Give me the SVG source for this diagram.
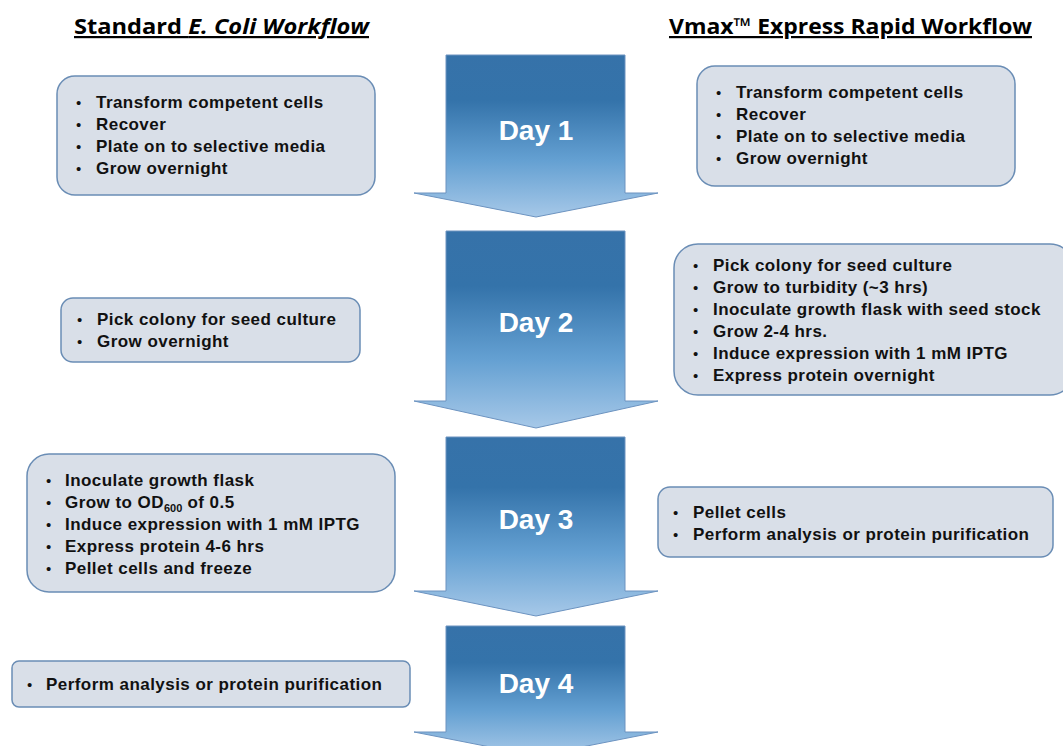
<svg xmlns="http://www.w3.org/2000/svg" width="1063" height="746" viewBox="0 0 1063 746">
<defs>
<linearGradient id="ag" x1="0" y1="0" x2="0" y2="1">
<stop offset="0" stop-color="#3672A9"/>
<stop offset="0.28" stop-color="#3473AA"/>
<stop offset="0.65" stop-color="#64A0D2"/>
<stop offset="1" stop-color="#A6C8E8"/>
</linearGradient>
</defs>
<style>
.hdr{font-family:"Open Sans","Liberation Sans",sans-serif;font-weight:bold;font-size:22px;fill:#000;text-decoration:underline;}
.box{fill:#D9DFE8;stroke:#6A8DB5;stroke-width:1.5;}
.t{font-family:"Liberation Sans",Arial,sans-serif;font-weight:bold;font-size:17px;letter-spacing:0.45px;fill:#111;}
.b{font-family:"Liberation Sans",Arial,sans-serif;font-size:15px;fill:#111;}
.arrow{fill:url(#ag);stroke:#6C93C0;stroke-width:1;}
.day{font-family:"Liberation Sans",Arial,sans-serif;font-weight:bold;font-size:28px;fill:#fff;text-anchor:middle;}
</style>
<rect width="1063" height="746" fill="#fff"/>
<g id="headers">
<text class="hdr" x="74" y="34" textLength="295" lengthAdjust="spacingAndGlyphs">Standard <tspan font-style="italic">E. Coli Workflow</tspan></text>
<text class="hdr" x="669" y="34" textLength="363" lengthAdjust="spacingAndGlyphs">Vmax™ Express Rapid Workflow</text>
</g>
<g id="connectors">
<g id="day1">
<path class="arrow" d="M446,55 H625 V193 H658 L536,217 L414,193 H446 Z"/>
<text class="day" x="536" y="140">Day 1</text>
</g>
<g id="day2">
<path class="arrow" d="M446,231 H625 V401 H658 L536,428 L414,401 H446 Z"/>
<text class="day" x="536" y="332">Day 2</text>
</g>
<g id="day3">
<path class="arrow" d="M446,437 H625 V591 H658 L536,616 L414,591 H446 Z"/>
<text class="day" x="536" y="529">Day 3</text>
</g>
<g id="day4">
<path class="arrow" d="M446,626 H625 V732 H658 L536,756 L414,732 H446 Z"/>
<text class="day" x="536" y="693">Day 4</text>
</g>
</g>
<g id="std-day1">
<rect class="box" x="57" y="76" width="318" height="119" rx="18"/>
<text class="b" x="76" y="108">•</text><text class="t" x="96" y="108">Transform competent cells</text>
<text class="b" x="76" y="130">•</text><text class="t" x="96" y="130">Recover</text>
<text class="b" x="76" y="152">•</text><text class="t" x="96" y="152">Plate on to selective media</text>
<text class="b" x="76" y="174">•</text><text class="t" x="96" y="174">Grow overnight</text>
</g>
<g id="vmax-day1">
<rect class="box" x="697" y="66" width="318" height="120" rx="18"/>
<text class="b" x="716" y="98">•</text><text class="t" x="736" y="98">Transform competent cells</text>
<text class="b" x="716" y="120">•</text><text class="t" x="736" y="120">Recover</text>
<text class="b" x="716" y="142">•</text><text class="t" x="736" y="142">Plate on to selective media</text>
<text class="b" x="716" y="164">•</text><text class="t" x="736" y="164">Grow overnight</text>
</g>
<g id="std-day2">
<rect class="box" x="61" y="298" width="299" height="64" rx="12"/>
<text class="b" x="77" y="325">•</text><text class="t" x="97" y="325">Pick colony for seed culture</text>
<text class="b" x="77" y="347">•</text><text class="t" x="97" y="347">Grow overnight</text>
</g>
<g id="vmax-day2">
<rect class="box" x="674" y="244" width="400" height="151" rx="24"/>
<text class="b" x="693" y="271">•</text><text class="t" x="713" y="271">Pick colony for seed culture</text>
<text class="b" x="693" y="293">•</text><text class="t" x="713" y="293">Grow to turbidity (~3 hrs)</text>
<text class="b" x="693" y="315">•</text><text class="t" x="713" y="315">Inoculate growth flask with seed stock</text>
<text class="b" x="693" y="337">•</text><text class="t" x="713" y="337">Grow 2-4 hrs.</text>
<text class="b" x="693" y="359">•</text><text class="t" x="713" y="359">Induce expression with 1 mM IPTG</text>
<text class="b" x="693" y="381">•</text><text class="t" x="713" y="381">Express protein overnight</text>
</g>
<g id="std-day3">
<rect class="box" x="27" y="454" width="368" height="138" rx="22"/>
<text class="b" x="46" y="486">•</text><text class="t" x="65" y="486">Inoculate growth flask</text>
<text class="b" x="46" y="508">•</text><text class="t" x="65" y="508">Grow to OD<tspan font-size="11" letter-spacing="0" dy="4">600</tspan><tspan dy="-4"> of 0.5</tspan></text>
<text class="b" x="46" y="530">•</text><text class="t" x="65" y="530">Induce expression with 1 mM IPTG</text>
<text class="b" x="46" y="552">•</text><text class="t" x="65" y="552">Express protein 4-6 hrs</text>
<text class="b" x="46" y="574">•</text><text class="t" x="65" y="574">Pellet cells and freeze</text>
</g>
<g id="vmax-day3">
<rect class="box" x="658" y="487" width="395" height="70" rx="12"/>
<text class="b" x="673" y="518">•</text><text class="t" x="693" y="518">Pellet cells</text>
<text class="b" x="673" y="540">•</text><text class="t" x="693" y="540">Perform analysis or protein purification</text>
</g>
<g id="std-day4">
<rect class="box" x="12" y="661" width="398" height="46" rx="7"/>
<text class="b" x="27" y="690">•</text><text class="t" x="46" y="690">Perform analysis or protein purification</text>
</g>
</svg>
